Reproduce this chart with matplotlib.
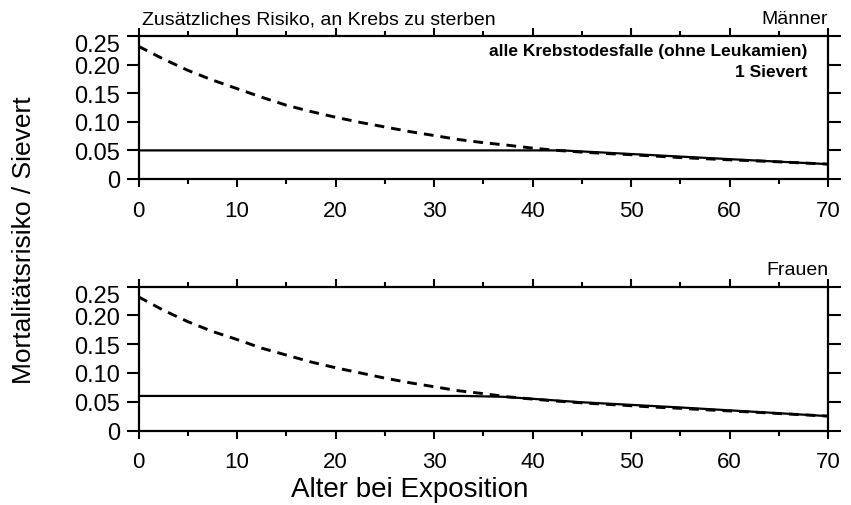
import matplotlib
matplotlib.use("Agg")
import matplotlib.pyplot as plt
from matplotlib.ticker import MultipleLocator, FixedLocator
from matplotlib.transforms import ScaledTranslation

plt.rcParams['font.family'] = ['Liberation Sans', 'DejaVu Sans']
plt.rcParams['lines.scale_dashes'] = False

# ---- data ----
age_dashed = [0, 2.5, 5, 7.5, 10, 12.5, 15, 17.5, 20, 22.5, 25, 27.5, 30, 32.5,
              35, 37.5, 40, 42.5, 45, 47.5, 50, 52.5, 55, 57.5, 60, 62.5, 65, 67.5, 70]
men_dashed = [0.232, 0.210, 0.190, 0.173, 0.158, 0.143, 0.129, 0.118, 0.108, 0.099,
              0.091, 0.083, 0.076, 0.069, 0.0635, 0.059, 0.054, 0.050, 0.047, 0.0445,
              0.0425, 0.0400, 0.0375, 0.0355, 0.0335, 0.0318, 0.0300, 0.0280, 0.026]
women_dashed = [0.232, 0.209, 0.189, 0.172, 0.158, 0.143, 0.131, 0.119, 0.109, 0.100,
                0.091, 0.083, 0.076, 0.069, 0.064, 0.0585, 0.0545, 0.051, 0.048, 0.0455,
                0.0430, 0.0405, 0.0385, 0.0360, 0.0340, 0.0318, 0.0295, 0.0272, 0.025]

men_solid_age = [0, 43, 45, 50, 55, 60, 65, 70]
men_solid = [0.050, 0.050, 0.0482, 0.0437, 0.0392, 0.0347, 0.0303, 0.026]
women_solid_age = [0, 33, 37, 40, 45, 50, 55, 60, 65, 70]
women_solid = [0.060, 0.060, 0.0585, 0.055, 0.049, 0.0445, 0.040, 0.035, 0.030, 0.025]

yticks = [0, 0.05, 0.10, 0.15, 0.20, 0.25]
ytick_labels = ['0', '0.05', '0.10', '0.15', '0.20', '0.25']
xticks = [0, 10, 20, 30, 40, 50, 60, 70]

title_text = "Zusätzliches Risiko, an Krebs zu sterben"
men_label = "Männer"
women_label = "Frauen"
note1 = "alle Krebstodesfalle (ohne Leukamien)"
note2 = "1 Sievert"
ylabel = "Mortalitätsrisiko / Sievert"
xlabel = "Alter bei Exposition"

W, H = 851, 506
fig = plt.figure(figsize=(W / 100, H / 100), dpi=100)

def px_rect(x0, y0, x1, y1):
    return [x0 / W, 1 - y1 / H, (x1 - x0) / W, (y1 - y0) / H]

ax1 = fig.add_axes(px_rect(138.5, 37, 828, 180))
ax2 = fig.add_axes(px_rect(138.5, 287.5, 828, 431.5))

for ax, xd, yd, xs, ys in [(ax1, age_dashed, men_dashed, men_solid_age, men_solid),
                           (ax2, age_dashed, women_dashed, women_solid_age, women_solid)]:
    ax.plot(xs, ys, color='black', lw=1.6, solid_capstyle='butt')
    ax.plot(xd, yd, color='black', lw=2.1, dashes=(7, 5))
    ax.set_xlim(0, 70)
    ax.set_ylim(0, 0.25)
    ax.xaxis.set_major_locator(FixedLocator(xticks))
    ax.xaxis.set_minor_locator(MultipleLocator(5))
    ax.set_yticks(yticks)
    ax.set_yticklabels(ytick_labels)
    for s in ax.spines.values():
        s.set_linewidth(1.6)
    ax.tick_params(axis='y', which='major', direction='out', length=9, width=1.5,
                   left=True, right=True, labelleft=True, labelright=False,
                   labelsize=17, pad=4)
    ax.tick_params(axis='x', which='major', direction='out', length=6, width=1.5,
                   top=True, bottom=True, labelsize=16, pad=9)
    ax.tick_params(axis='x', which='minor', direction='out', length=3.5, width=1.5,
                   top=True, bottom=True)
    fig.canvas.draw()
    lab = ax.get_yticklabels()[-1]
    lab.set_transform(lab.get_transform() + ScaledTranslation(0, -5 / 72, fig.dpi_scale_trans))

ax1.text(0.005, 1.06, title_text, transform=ax1.transAxes, ha='left', va='bottom',
         fontsize=14)
ax1.text(1.0, 1.06, men_label, transform=ax1.transAxes, ha='right', va='bottom',
         fontsize=14)
ax1.text(0.970, 0.90, note1, transform=ax1.transAxes, ha='right', va='center',
         fontsize=12.5, fontweight='bold')
ax1.text(0.970, 0.755, note2, transform=ax1.transAxes, ha='right', va='center',
         fontsize=12.5, fontweight='bold')
ax2.text(1.0, 1.06, women_label, transform=ax2.transAxes, ha='right', va='bottom',
         fontsize=14)

fig.text(24 / W, 1 - 240 / H, ylabel, rotation=90, ha='center', va='center', fontsize=19)
fig.text(410 / W, 1 - 490 / H, xlabel, ha='center', va='center', fontsize=20)

fig.savefig('out.png', dpi=100)
